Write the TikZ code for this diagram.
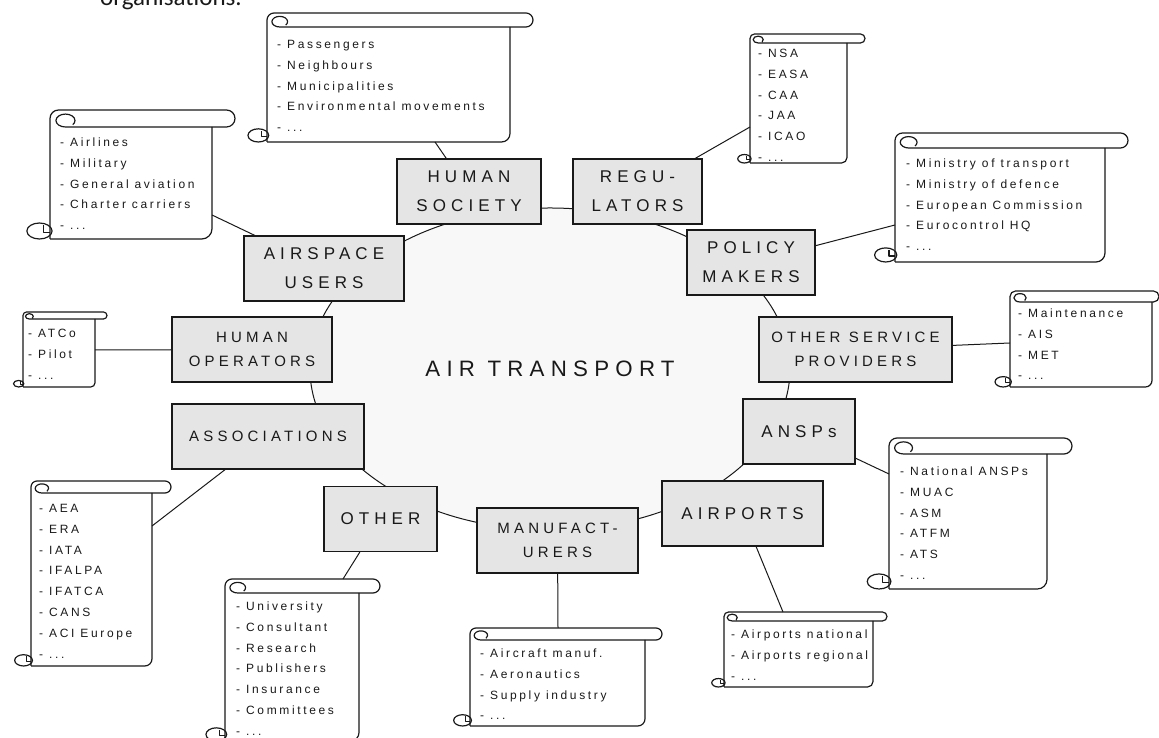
\documentclass[tikz,border=0pt]{standalone}
\usepackage{fontspec}
\setmainfont{Liberation Sans}
\newfontfamily\wideface[LetterSpace=30]{Liberation Sans}
\newfontfamily\narrowface[LetterSpace=28]{Liberation Sans}
\newfontfamily\listface[LetterSpace=22]{Liberation Sans}
\newfontfamily\pageface{Carlito}
\usepackage{tikz}
\usepackage{color}
\usepackage{tkz-graph}
\usetikzlibrary{shapes.geometric}

% scroll: left, band top, band bottom, right, band end, bottom
\newcommand{\DrawScroll}[6]{%
  \pgfmathsetmacro{\scrh}{#2-#3}
  \draw[scrollline] (#1,#6) -- (#1,#2-0.5*\scrh) arc[start angle=180,end angle=90,radius=0.5*\scrh]
    -- (#5-0.5*\scrh,#2) arc[start angle=90,end angle=-90,radius=0.5*\scrh]
    -- (#1+0.91*\scrh,#3) arc[start angle=270,end angle=-40,x radius=0.56*\scrh,y radius=0.38*\scrh];
  \draw[scrollline] (#4,#3) -- (#4,#6+0.6*\scrh) arc[start angle=0,end angle=-90,radius=0.6*\scrh] -- (#1,#6);
  \draw[scrollline] (#1-0.62*\scrh,#6+0.47*\scrh) ellipse[x radius=0.74*\scrh,y radius=0.47*\scrh];
  \draw[scrollline] (#1-0.4*\scrh,#6+0.8*\scrh) -- (#1-0.4*\scrh,#6+0.4*\scrh) -- (#1,#6+0.4*\scrh);
}

\begin{document}
\begin{tikzpicture}[x=1pt,y=1pt,
  hubstyle/.style={shape=ellipse,minimum width=480pt,minimum height=322pt,draw=cvhub,fill=cfhub,text=clbox,line width=1pt,font=\narrowface\fontsize{22.3}{27}\selectfont},
  bigbox/.style={shape=rectangle,minimum height=65pt,inner sep=2pt,draw=cvbox,fill=cfbox,text=clbox,line width=1.2pt,align=center,font=\wideface\fontsize{17}{29}\selectfont},
  smallbox/.style={bigbox,font=\narrowface\fontsize{15}{24}\selectfont},
  listtext/.style={anchor=base west,inner sep=0pt,align=left,text=clbox,font=\listface\fontsize{12}{20.8}\selectfont},
  scrollline/.style={draw=cvbox,line width=1.2pt,line join=round}]
\definecolor{cvbox}{rgb}{0.1,0.1,0.1}
\definecolor{cfbox}{rgb}{0.898,0.898,0.898}
\definecolor{clbox}{rgb}{0.1,0.1,0.1}
\definecolor{cvhub}{rgb}{0.1,0.1,0.1}
\definecolor{cfhub}{rgb}{0.973,0.973,0.973}
\definecolor{cedge}{rgb}{0.1,0.1,0.1}
%
\useasboundingbox (0,0) rectangle (1159,738);
\clip (0,0) rectangle (1159,738);
\node[anchor=base west,inner sep=0pt,text=clbox,font=\pageface\fontsize{25}{30}\selectfont] (heading) at (100,732) {organisations.};
%
\node[hubstyle] (hub) at (550,369) {AIR TRANSPORT};
\node[bigbox,minimum width=144pt] (society) at (469,546.5) {HUMAN\\SOCIETY};
\node[bigbox,minimum width=129pt] (regulators) at (637.5,546.5) {REGU-\\LATORS};
\node[bigbox,minimum width=128pt] (policy) at (751,475.5) {POLICY\\MAKERS};
\node[smallbox,minimum width=193pt] (osp) at (855.5,388.5) {OTHER SERVICE\\PROVIDERS};
\node[bigbox,minimum width=112pt] (ansps) at (799,306.5) {ANSPs};
\node[bigbox,minimum width=161pt] (airports) at (742.5,224.5) {AIRPORTS};
\node[smallbox,minimum width=161pt] (manuf) at (557.5,197.5) {MANUFACT-\\URERS};
\node[bigbox,minimum width=113pt] (other) at (380.5,219) {OTHER};
\node[smallbox,minimum width=192pt] (assoc) at (268,301.5) {ASSOCIATIONS};
\node[smallbox,minimum width=160pt] (operators) at (252,388.5) {HUMAN\\OPERATORS};
\node[bigbox,minimum width=160pt] (users) at (324,469.5) {AIRSPACE\\USERS};
%
\DrawScroll{50}{628}{611}{212}{235}{499}
\DrawScroll{267}{725}{711}{510}{533}{596}
\DrawScroll{750}{704}{695}{847}{865}{575}
\DrawScroll{895}{605}{590}{1105}{1128}{476}
\DrawScroll{1010}{447}{436}{1152}{1159}{351}
\DrawScroll{889}{300}{284}{1047}{1072}{149}
\DrawScroll{724}{126}{117}{873}{887}{51}
\DrawScroll{470}{110}{98}{645}{662}{12}
\DrawScroll{225}{159}{145}{359}{380}{-3}
\DrawScroll{31}{257}{245}{152}{171}{72}
\DrawScroll{23}{426}{419}{95}{107}{351}
%
% lists sit on the baseline of their last line
\node[listtext] (users-list) at (60,508.3) {- Airlines\\- Military\\- General aviation\\- Charter carriers\\- ...};
\node[listtext] (society-list) at (277,606.3) {- Passengers\\- Neighbours\\- Municipalities\\- Environmental movements\\- ...};
\node[listtext] (regulators-list) at (758,576.5) {- NSA\\- EASA\\- CAA\\- JAA\\- ICAO\\- ...};
\node[listtext] (policy-list) at (906,487.3) {- Ministry of transport\\- Ministry of defence\\- European Commission\\- Eurocontrol HQ\\- ...};
\node[listtext] (osp-list) at (1018,358.1) {- Maintenance\\- AIS\\- MET\\- ...};
\node[listtext] (ansps-list) at (900,158.5) {- National ANSPs\\- MUAC\\- ASM\\- ATFM\\- ATS\\- ...};
\node[listtext] (airports-list) at (731,57.9) {- Airports national\\- Airports regional\\- ...};
\node[listtext] (manuf-list) at (480,18.1) {- Aircraft manuf.\\- Aeronautics\\- Supply industry\\- ...};
\node[listtext] (other-list) at (236,2.7) {- University\\- Consultant\\- Research\\- Publishers\\- Insurance\\- Committees\\- ...};
\node[listtext] (assoc-list) at (39,79.9) {- AEA\\- ERA\\- IATA\\- IFALPA\\- IFATCA\\- CANS\\- ACI Europe\\- ...};
\node[listtext] (operators-list) at (28,358.9) {- ATCo\\- Pilot\\- ...};
%
\coordinate (users-tag) at (212,523);
\coordinate (society-tag) at (435,596);
\coordinate (regulators-tag) at (750,611);
\coordinate (policy-tag) at (895,513);
\coordinate (osp-tag) at (1010,395);
\coordinate (ansps-tag) at (889,264);
\coordinate (airports-tag) at (783,126);
\coordinate (manuf-tag) at (558,110);
\coordinate (other-tag) at (343,159);
\coordinate (assoc-tag) at (152,212);
\coordinate (operators-tag) at (95,388);
%
\Edge[lw=1pt,style={color=cedge}](users)(users-tag)
\Edge[lw=1pt,style={color=cedge}](society)(society-tag)
\Edge[lw=1pt,style={color=cedge}](regulators)(regulators-tag)
\Edge[lw=1pt,style={color=cedge}](policy)(policy-tag)
\Edge[lw=1pt,style={color=cedge}](osp)(osp-tag)
\Edge[lw=1pt,style={color=cedge}](ansps)(ansps-tag)
\Edge[lw=1pt,style={color=cedge}](airports)(airports-tag)
\Edge[lw=1pt,style={color=cedge}](manuf)(manuf-tag)
\Edge[lw=1pt,style={color=cedge}](other)(other-tag)
\Edge[lw=1pt,style={color=cedge}](assoc)(assoc-tag)
\Edge[lw=1pt,style={color=cedge}](operators)(operators-tag)
%
\end{tikzpicture}
\end{document}
